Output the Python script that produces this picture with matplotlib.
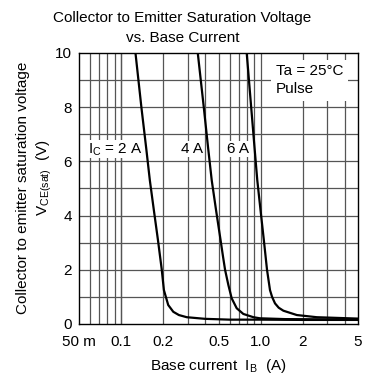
import matplotlib.pyplot as plt
import numpy as np

# I_B (A) vs V_CE(sat) (V)
ib_2a = [0.127, 0.140, 0.1515, 0.161, 0.172, 0.184, 0.196, 0.203, 0.218, 0.237,
         0.26, 0.296, 0.4, 0.6, 1.0, 2.0, 5.0]
vce_2a = [10.0, 8.0, 6.5, 5.3, 4.2, 3.1, 2.0, 1.25, 0.70, 0.45,
          0.33, 0.25, 0.19, 0.16, 0.16, 0.15, 0.15]
ib_4a = [0.355, 0.392, 0.421, 0.447, 0.480, 0.517, 0.538, 0.557, 0.588, 0.621, 0.675,
         0.753, 0.889, 0.99, 1.5, 3.0, 5.0]
vce_4a = [10.0, 8.0, 6.5, 5.3, 4.2, 3.1, 2.5, 2.0, 1.44, 0.95, 0.58,
          0.37, 0.25, 0.21, 0.18, 0.17, 0.16]
ib_6a = [0.796, 0.857, 0.906, 0.948, 1.0, 1.056, 1.113, 1.169, 1.21, 1.27, 1.35, 1.458,
         1.82, 2.53, 4.9, 5.0]
vce_6a = [10.0, 8.0, 6.5, 5.3, 4.2, 3.1, 2.0, 1.25, 1.0, 0.76, 0.6, 0.49,
          0.33, 0.25, 0.20, 0.20]

xtick_vals = [0.05, 0.1, 0.2, 0.5, 1.0, 2, 5]
xtick_labels = ['50 m', '0.1', '0.2', '0.5', '1.0', '2', '5']
ytick_vals = [0, 2, 4, 6, 8, 10]

plt.rcParams['font.family'] = ['Liberation Sans', 'DejaVu Sans']
fs = 11

fig = plt.figure(figsize=(3.65, 3.78), dpi=100)
ax = fig.add_axes([0.2164, 0.1429, 0.7646, 0.7169])
ax.set_xscale('log')
ax.set_xlim(0.05, 5)
ax.set_ylim(0, 10)

# grid
xgrid = list(np.arange(0.06, 0.1, 0.01)) + [0.1 * k for k in range(1, 10)] + [1, 2, 3, 4]
for g in xgrid:
    ax.axvline(g, color='#555555', lw=0.9, zorder=1)
for g in range(1, 10):
    ax.axhline(g, color='#555555', lw=0.9, zorder=1)

for xs, ys in [(ib_2a, vce_2a), (ib_4a, vce_4a), (ib_6a, vce_6a)]:
    ax.plot(xs, ys, color='black', lw=1.6, zorder=3, solid_joinstyle='round')

ax.set_xticks(xtick_vals)
ax.set_xticklabels(xtick_labels)
ax.xaxis.set_minor_locator(plt.NullLocator())
ax.set_yticks(ytick_vals)
ax.tick_params(axis='x', length=0, labelsize=fs, pad=8)
ax.tick_params(axis='y', length=0, labelsize=fs, pad=5)
for s in ax.spines.values():
    s.set_linewidth(1.0)

lab_kw = dict(fontsize=fs, ha='left', va='center', zorder=4,
              bbox=dict(facecolor='white', edgecolor='none', pad=0.5))
ax.text(0.058, 6.45, r'I$_\mathregular{C}$ = 2 A', **lab_kw)
ax.text(0.269, 6.45, '4 A', **lab_kw)
ax.text(0.575, 6.45, '6 A', **lab_kw)
ax.text(1.29, 9.0, 'Ta = 25°C\nPulse', fontsize=fs, ha='left', va='center',
        linespacing=1.3, zorder=4,
        bbox=dict(facecolor='white', edgecolor='none', pad=3.5))

ax.set_xlabel(r'Base current  I$_\mathregular{B}$  (A)', fontsize=fs, labelpad=6)
# y label: two lines placed separately, as in the datasheet
fig.text(23 / 365, 1 - 188 / 378, 'Collector to emitter saturation voltage',
         rotation=90, ha='center', va='center', fontsize=fs)
fig.text(44 / 365, 1 - 178 / 378, r'V$_\mathregular{CE(sat)}$  (V)',
         rotation=90, ha='center', va='center', fontsize=fs)
fig.suptitle('Collector to Emitter Saturation Voltage\nvs. Base Current',
             fontsize=fs, y=0.97, linespacing=1.5)

fig.savefig('out.png', dpi=100)
